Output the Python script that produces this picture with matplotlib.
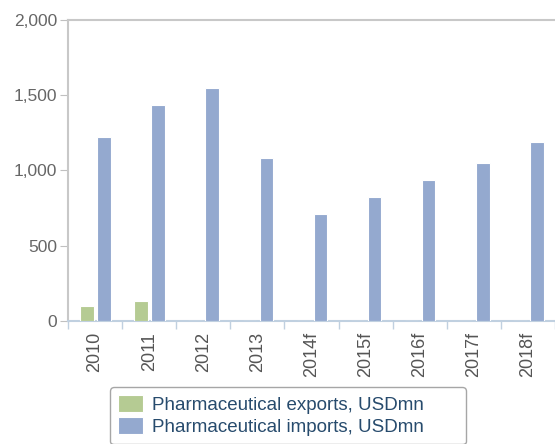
import matplotlib.pyplot as plt
import numpy as np

plt.rcParams['font.family'] = ['Liberation Sans', 'DejaVu Sans']

years = ["2010", "2011", "2012", "2013", "2014f", "2015f", "2016f", "2017f", "2018f"]
exports = [100, 130, 0, 0, 0, 0, 0, 0, 0]
imports = [1220, 1435, 1550, 1083, 711, 824, 939, 1052, 1187]

fig = plt.figure(figsize=(5.55, 4.44), dpi=100)
ax = fig.add_axes([68 / 555, 123 / 444, 1 - 68 / 555, 301 / 444])

x = np.arange(len(years))
w = 0.25
ax.bar(x - 0.15, exports, w, color="#b5cb93", edgecolor="white", linewidth=0.8,
       label="Pharmaceutical exports, USDmn", zorder=3)
ax.bar(x + 0.165, imports, w, color="#94a9cf", edgecolor="white", linewidth=0.8,
       label="Pharmaceutical imports, USDmn", zorder=3)

ax.set_ylim(0, 2000)
ax.set_xlim(-0.5, (555 - 68) / 55.5 - 0.5)
ax.set_yticks([0, 500, 1000, 1500, 2000])
ax.set_yticklabels(["0", "500", "1,000", "1,500", "2,000"])
ax.set_xticks(x)
ax.set_xticklabels(years, rotation=90)
ax.set_xticks(np.arange(len(years) + 1) - 0.5, minor=True)

ax.tick_params(axis='y', length=6, color="#c0c0c0", labelsize=12.5, labelcolor="#666666", pad=2)
ax.tick_params(axis='x', which='major', length=0, labelsize=13, labelcolor="#555555", pad=8)
ax.tick_params(axis='x', which='minor', length=6, color="#c0d0e0", width=1)

ax.spines['right'].set_visible(False)
ax.spines['left'].set_color("#c8c8c8")
ax.spines['top'].set_color("#c8c8c8")
ax.spines['bottom'].set_color("#c0d0e0")
ax.spines['left'].set_linewidth(1.5)
ax.spines['top'].set_linewidth(1.5)
ax.spines['bottom'].set_linewidth(1.5)

leg = fig.legend(loc="upper left", mode="expand",
                 bbox_to_anchor=(110 / 555, 1 - 387 / 444, 356 / 555, 0),
                 fontsize=13.5, frameon=True, fancybox=True, handlelength=1.3,
                 handleheight=1.0, handletextpad=0.5, labelspacing=0.15,
                 borderpad=0.45, borderaxespad=0)
leg.get_frame().set_edgecolor("#909090")
leg.get_frame().set_linewidth(1.0)
for t in leg.get_texts():
    t.set_color("#274b6d")

fig.savefig("out.png", dpi=100)
